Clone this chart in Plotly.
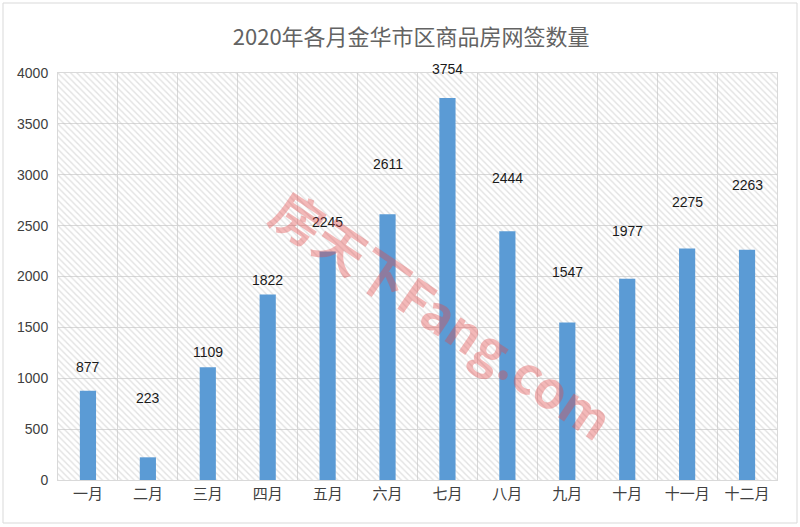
import plotly.graph_objects as go

months = ["一月", "二月", "三月", "四月", "五月", "六月",
          "七月", "八月", "九月", "十月", "十一月", "十二月"]
values = [877, 223, 1109, 1822, 2245, 2611, 3754, 2444, 1547, 1977, 2275, 2263]
# pixel offsets of each data label above its bar top (as placed in the source chart)
label_offsets = [24, 59, 15, 15, 30, 50, 29, 53, 51, 48, 47, 65]
y_max = 4000

fig = go.Figure()

# hatched plot background
fig.add_trace(go.Bar(
    x=months, y=[y_max] * len(months), width=1,
    marker=dict(color="rgba(0,0,0,0)", line=dict(width=0),
                pattern=dict(shape="\\", fgcolor="#c4c4c4", bgcolor="rgba(0,0,0,0)",
                             size=4.5, solidity=0.3)),
    hoverinfo="skip", showlegend=False,
))

fig.add_trace(go.Bar(
    x=months, y=values, width=0.27,
    marker=dict(color="#5B9BD5", line=dict(width=0)),
    showlegend=False,
))

for m, v, off in zip(months, values, label_offsets):
    fig.add_annotation(x=m, y=v, text=str(v), showarrow=False,
                       yanchor="middle", yshift=off,
                       font=dict(family="Liberation Sans, Arial", size=14, color="#1a1a1a"))

# watermark
fig.add_annotation(xref="paper", yref="paper", x=0.535, y=0.41,
                   text="<b>房天下Fang.com</b>", showarrow=False, textangle=34,
                   font=dict(family="Noto Sans CJK SC, Noto Sans", size=51,
                             color="rgba(226,70,70,0.38)"))

# outer border
fig.add_shape(type="rect", xref="paper", yref="paper",
              x0=(3 - 58) / 719, x1=(797 - 58) / 719,
              y0=(480 - 523) / 407, y1=(480 - 3) / 407,
              line=dict(color="#d9d9d9", width=1), fillcolor="rgba(0,0,0,0)", layer="below")

fig.update_layout(
    width=800, height=527,
    margin=dict(l=58, r=23, t=73, b=47),
    paper_bgcolor="white", plot_bgcolor="white",
    barmode="overlay",
    title=dict(text="2020年各月金华市区商品房网签数量", x=0.514, xanchor="center",
               y=1 - 37 / 527, yanchor="middle", xref="container", yref="container",
               font=dict(family="Noto Sans CJK SC", size=22, color="#636363")),
    xaxis=dict(type="category", tickson="boundaries", showgrid=True, gridcolor="#d9d9d9",
               showline=True, linecolor="#d9d9d9", mirror=True, ticks="",
               tickfont=dict(family="Noto Sans CJK SC", size=15, color="#404040"),
               range=[-0.5, 11.5]),
    yaxis=dict(range=[0, y_max], dtick=500, showgrid=True, gridcolor="#d9d9d9",
               showline=True, linecolor="#d9d9d9", mirror=True, zeroline=False,
               ticks="outside", ticklen=6, tickcolor="rgba(0,0,0,0)",
               tickfont=dict(family="Liberation Sans, Arial", size=14, color="#404040")),
)

fig.write_html("out.html")
